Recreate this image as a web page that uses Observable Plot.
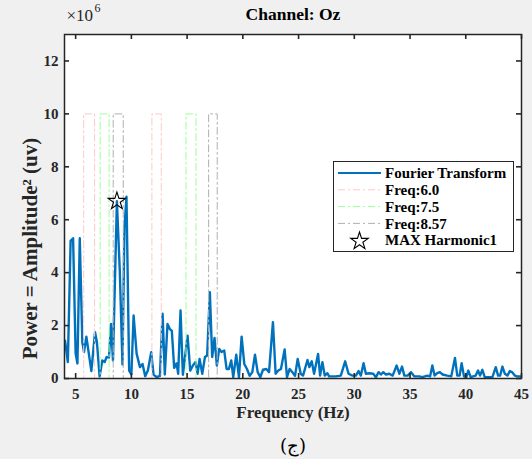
<!DOCTYPE html>
<html><head><meta charset="utf-8">
<script src="https://cdn.jsdelivr.net/npm/d3@7"></script>
<script src="https://cdn.jsdelivr.net/npm/@observablehq/plot@0.6"></script>
<style>
html,body{margin:0;padding:0;background:#f0f0f0;}
</style>
</head><body><div id="chart"></div>
<script>
const freq = [4.05,4.3,4.55,4.77,5.0,5.16,5.37,5.6,5.75,5.96,6.14,6.41,6.74,6.91,7.15,7.39,7.6,7.78,7.99,8.17,8.35,8.7,8.96,9.2,9.38,9.56,9.8,10.0,10.2,10.47,10.77,11.0,11.24,11.48,11.78,11.99,12.26,12.56,12.8,13.0,13.24,13.45,13.63,13.84,14.05,14.2,14.41,14.62,15.04,15.28,15.52,15.76,15.94,16.12,16.36,16.6,16.8,17.04,17.25,17.46,17.67,17.88,18.09,18.33,18.54,18.75,18.96,19.14,19.41,19.65,19.89,20.13,20.37,20.61,20.85,21.09,21.33,21.57,21.81,22.11,22.35,22.7,22.94,23.18,23.42,23.75,23.96,24.2,24.44,24.68,24.92,25.19,25.4,25.8,25.97,26.18,26.39,26.75,26.93,27.14,27.35,27.59,27.74,28.04,28.34,28.79,29.18,29.48,29.84,30.14,30.38,30.59,30.83,31.04,31.34,31.7,31.94,32.18,32.39,32.6,32.84,33.14,33.44,33.8,34.04,34.28,34.49,34.79,35.09,35.39,35.84,36.1,36.55,36.8,37.0,37.2,37.44,37.68,37.92,38.34,38.7,39.03,39.24,39.45,39.63,39.84,40.05,40.23,40.44,40.65,40.89,41.1,41.28,41.49,41.7,42.09,42.39,42.69,42.9,43.08,43.29,43.5,43.74,43.95,44.16,44.4,44.64,44.94];
const power = [1.43,0.62,5.2,5.3,0.94,0.57,5.3,1.37,1.0,1.58,1.06,0.28,1.75,1.37,0.07,0.68,0.62,0.81,0.79,2.06,0.68,6.7,4.08,0.53,5.7,6.87,0.3,0.15,2.38,0.94,0.43,0.55,0.09,0.3,0.99,0.15,0.05,0.1,2.45,0.15,2.06,1.87,1.8,0.4,0.57,0.18,2.57,0.14,1.62,0.3,0.49,0.62,0.18,0.74,0.18,0.81,0.87,3.26,0.81,1.53,0.49,1.12,1.0,1.06,0.36,0.36,0.68,0.05,0.9,0.05,1.58,0.55,0.36,0.1,0.24,0.9,0.24,0.05,0.33,0.36,0.24,2.13,0.18,0.3,0.36,1.1,0.05,0.36,0.24,0.1,0.74,0.18,0.11,0.7,0.43,0.65,0.18,0.93,0.11,0.62,0.11,0.2,0.08,0.08,0.08,0.11,0.65,0.18,0.11,0.11,0.28,0.11,0.58,0.18,0.2,0.18,0.05,0.24,0.15,0.24,0.15,0.18,0.11,0.49,0.18,0.45,0.11,0.11,0.24,0.08,0.08,0.05,0.11,0.08,0.49,0.11,0.2,0.24,0.15,0.11,0.08,0.78,0.11,0.11,0.58,0.08,0.05,0.3,0.05,0.08,0.11,0.3,0.11,0.33,0.05,0.05,0.05,0.43,0.11,0.11,0.45,0.18,0.11,0.28,0.24,0.11,0.08,0.08];

const xTicks = [5,10,15,20,25,30,35,40,45];
const yTicks = [0,2,4,6,8,10,12];
const xDomain = [4,45];
const yDomain = [0,13];

const refNames = ["Freq:6.0","Freq:7.5","Freq:8.57"];
const refColors = ["#ffc8c8","#9cff9c","#b0b0b0"];
const refStarts = [[5.72,11.84],[7.2,14.9],[8.37,16.93]];
const refEnds = [[6.7,12.68],[8.0,15.8],[9.27,17.7]];
const refLevel = 10;

const maxFreq = [8.7];
const maxPower = [6.7];

const signal = freq.map((f,i)=>({f, p: power[i]}));
function refSeries(i){
  const pts=[{f:xDomain[0],p:0}];
  refStarts[i].forEach((s,k)=>{
    const e=refEnds[i][k];
    pts.push({f:s,p:0},{f:s,p:refLevel},{f:e,p:refLevel},{f:e,p:0});
  });
  pts.push({f:xDomain[1],p:0});
  return pts;
}
const dash = "7 3 2 3";
const font = "Liberation Serif, Times New Roman, serif";
const ink = "#262626";
const FH = 459-34-81, FW = 532-64-11;

const refMarks = [0,2,1].map(i => Plot.line(refSeries(i), {x:"f", y:"p", stroke: refColors[i], strokeWidth: 1, strokeDasharray: dash}));

const chart = Plot.plot({
  width: 532, height: 459,
  marginLeft: 64, marginRight: 11, marginTop: 34, marginBottom: 81,
  style: {background: "#f0f0f0", fontFamily: font, fontSize: "15px", color: ink},
  x: {domain: xDomain},
  y: {domain: yDomain},
  marks: [
    Plot.frame({fill: "white", stroke: null}),
    Plot.line(signal, {x:"f", y:"p", stroke:"#0072BD", strokeWidth: 2.4}),
    ...refMarks,
    Plot.dot(maxFreq.map((f,i)=>({f, p:maxPower[i]})), {x:"f", y:"p", symbol:"star", r: 5.5, stroke:"black", strokeWidth: 1.1, fill:"none"}),
    Plot.frame({stroke: ink, strokeWidth: 1.5}),
    Plot.ruleX(xTicks, {x: d=>d, insetTop: FH-5, stroke: ink, strokeWidth: 1.6}),
    Plot.ruleX(xTicks, {x: d=>d, insetBottom: FH-5, stroke: ink, strokeWidth: 1.6}),
    Plot.ruleY(yTicks, {y: d=>d, insetRight: FW-5, stroke: ink, strokeWidth: 1.6}),
    Plot.ruleY(yTicks, {y: d=>d, insetLeft: FW-5, stroke: ink, strokeWidth: 1.6}),
    Plot.axisX({ticks: xTicks, tickSize: 0, tickPadding: 10, label: null, fontWeight: "bold", fontSize: 15, fill: ink}),
    Plot.axisY({ticks: yTicks, tickSize: 0, tickPadding: 6, label: null, fontWeight: "bold", fontSize: 15, fill: ink}),
    Plot.text(["Channel: Oz"], {frameAnchor: "top", lineAnchor: "middle", dy: -20, text: d=>d, fontWeight: "bold", fontSize: 17.5, fill: "black"}),
    Plot.text(["×10"], {frameAnchor: "top-left", textAnchor: "start", lineAnchor: "middle", dx: 2, dy: -19, text: d=>d, fontSize: 17, fill: ink}),
    Plot.text(["6"], {frameAnchor: "top-left", textAnchor: "start", lineAnchor: "middle", dx: 30, dy: -26, text: d=>d, fontSize: 12, fill: ink}),
    Plot.text(["Frequency (Hz)"], {frameAnchor: "bottom", lineAnchor: "middle", dy: 34, text: d=>d, fontWeight: "bold", fontSize: 17, fill: ink}),
    Plot.text(["Power = Amplitude² (uv)"], {frameAnchor: "left", textAnchor: "middle", lineAnchor: "middle", rotate: -90, dx: -34, dy: 42, text: d=>d, fontWeight: "bold", fontSize: 21, fill: ink}),
    Plot.text(["(ج)"], {frameAnchor: "bottom", lineAnchor: "middle", dy: 68, text: d=>d, fontSize: 18, fill: "black", fontFamily: "DejaVu Serif, serif"})
  ]
});

// legend
const svg = d3.select(chart);
const lg = svg.append("g").attr("font-family", font).attr("font-weight","bold").attr("font-size", 15).attr("text-anchor","start");
lg.append("rect").attr("x",333.5).attr("y",161.5).attr("width",180).attr("height",90).attr("fill","white").attr("stroke",ink).attr("stroke-width",1);
const entries = [
  {label:"Fourier Transform", type:"line", color:"#0072BD", w:2, dash:null},
  ...refNames.map((n,i)=>({label:n, type:"line", color: refColors[i], w:1, dash}))
  ,{label:"MAX Harmonic1", type:"star"}
];
entries.forEach((e,i)=>{
  const y = 173 + i*16.8;
  if(e.type==="line"){
    const l = lg.append("line").attr("x1",338).attr("x2",381).attr("y1",y).attr("y2",y).attr("stroke",e.color).attr("stroke-width",e.w);
    if(e.dash) l.attr("stroke-dasharray", e.dash);
  } else {
    lg.append("path").attr("d", d3.symbol(d3.symbolStar, 95)()).attr("transform",`translate(359.5,${y+1})`).attr("fill","none").attr("stroke","black").attr("stroke-width",1.1);
  }
  lg.append("text").attr("x",385).attr("y",y).attr("dy","0.35em").attr("fill","black").attr("text-anchor","start").text(e.label);
});

document.getElementById("chart").appendChild(chart);
</script>
</body></html>
